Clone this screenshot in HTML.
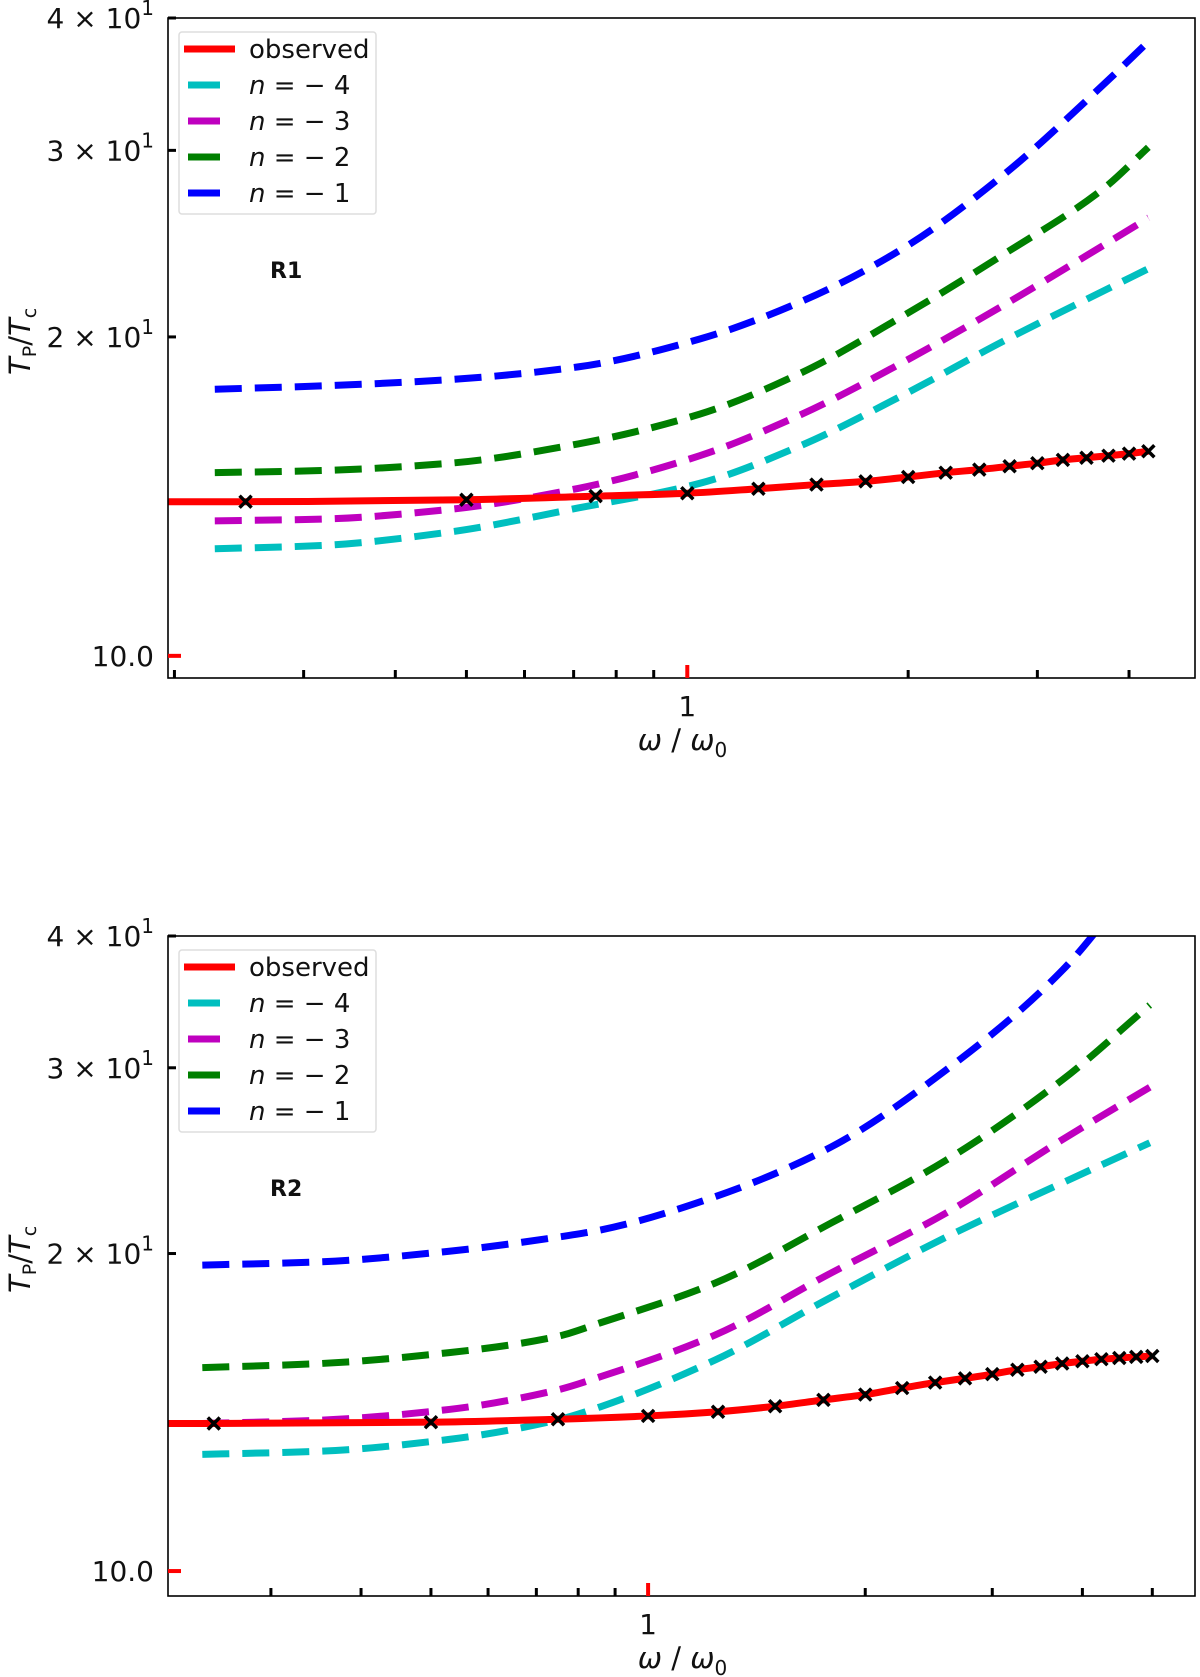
<!DOCTYPE html>
<html><head><meta charset="utf-8"><style>
body{margin:0;background:#fff;}
svg{display:block;font-family:"DejaVu Sans","Liberation Sans",sans-serif;}
</style></head><body>
<svg id="fig" width="1200" height="1677" viewBox="0 0 1200 1677"></svg>
<script>
// ---- data: panel R1 ----
const obsX1 = [0.25,0.5,0.75,1.0,1.25,1.5,1.75,2.0,2.25,2.5,2.75,3.0,3.25,3.5,3.75,4.0,4.25];
const obsY1 = [13.98,14.04,14.15,14.24,14.38,14.51,14.61,14.75,14.89,14.99,15.10,15.20,15.31,15.38,15.45,15.52,15.60];
const curveX1 = [0.227,0.317,0.475,0.710,1.04,1.43,1.96,2.69,3.69,4.25];
const nm1Y1 = [17.85,17.98,18.23,18.74,19.91,21.6,24.2,28.4,34.6,38.0];
const nm2Y1 = [14.89,14.96,15.20,15.85,16.91,18.5,20.9,23.9,27.6,30.2];
const nm3Y1 = [13.41,13.46,13.75,14.39,15.45,16.9,18.9,21.4,24.4,25.9];
const nm4Y1 = [12.62,12.71,13.09,13.79,14.55,15.8,17.6,19.8,22.1,23.2];
// ---- data: panel R2 ----
const obsX2 = [0.25,0.5,0.75,1.0,1.25,1.5,1.75,2.0,2.25,2.5,2.75,3.0,3.25,3.5,3.75,4.0,4.25,4.5,4.75,5.0];
const obsY2 = [13.80,13.84,13.93,14.03,14.16,14.33,14.53,14.70,14.91,15.09,15.23,15.37,15.52,15.62,15.73,15.81,15.88,15.92,15.96,15.99];
const curveX2 = [0.241,0.351,0.530,0.746,0.858,1.238,1.794,2.589,3.75,4.96];
const nm1Y2 = [19.50,19.64,20.10,20.72,21.05,22.64,25.24,29.86,37.1,47.0];
const nm2Y2 = [15.59,15.73,16.11,16.68,17.19,18.75,21.38,24.52,29.21,34.4];
const nm3Y2 = [13.80,13.90,14.23,14.84,15.28,16.74,19.17,21.85,25.64,28.75];
const nm4Y2 = [12.90,12.99,13.33,13.90,14.31,15.85,18.18,20.73,23.33,25.47];
const yTickVals = [10,20,30,40];
const yTickLabels = ["10.0","2 × 10|1","3 × 10|1","4 × 10|1"];
const xMinorVals = [0.2,0.3,0.4,0.5,0.6,0.7,0.8,0.9,2,3,4,5];
const legendLabels = ["observed","n = −4","n = −3","n = −2","n = −1"];

const NS="http://www.w3.org/2000/svg";
const svg=document.getElementById('fig');
function mk(tag,attrs,parent){const e=document.createElementNS(NS,tag);for(const k in attrs)e.setAttribute(k,attrs[k]);(parent||svg).appendChild(e);return e;}

function smoothPath(pts){
  const n=pts.length,xs=pts.map(p=>p[0]),ys=pts.map(p=>p[1]);
  const d=[],m=new Array(n);
  for(let i=0;i<n-1;i++)d.push((ys[i+1]-ys[i])/(xs[i+1]-xs[i]));
  m[0]=d[0];m[n-1]=d[n-2];
  for(let i=1;i<n-1;i++){
    if(d[i-1]*d[i]<=0)m[i]=0;
    else{const h0=xs[i]-xs[i-1],h1=xs[i+1]-xs[i];const w1=2*h1+h0,w2=h1+2*h0;m[i]=(w1+w2)/(w1/d[i-1]+w2/d[i]);}
  }
  let s="M"+xs[0].toFixed(2)+","+ys[0].toFixed(2);
  for(let i=0;i<n-1;i++){
    const h=xs[i+1]-xs[i];
    s+=" C"+(xs[i]+h/3).toFixed(2)+","+(ys[i]+m[i]*h/3).toFixed(2)+" "+(xs[i+1]-h/3).toFixed(2)+","+(ys[i+1]-m[i+1]*h/3).toFixed(2)+" "+xs[i+1].toFixed(2)+","+ys[i+1].toFixed(2);
  }
  return s;
}

function panel(cfg){
  const {L,R,T,B,xmin,xmax,ymin,ymax,id}=cfg;
  const g=mk('g',{});
  
  
  const sx=v=>L+(Math.log10(v)-Math.log10(xmin))/(Math.log10(xmax)-Math.log10(xmin))*(R-L);
  const sy=v=>B-(Math.log10(v)-Math.log10(ymin))/(Math.log10(ymax)-Math.log10(ymin))*(B-T);
  const cid='clip-'+id;
  const cp=mk('clipPath',{id:cid},g);mk('rect',{x:L,y:T,width:R-L,height:B-T},cp);
  const plot=mk('g',{'clip-path':'url(#'+cid+')'},g);
  const series=[[cfg.nm4,'#00bfbf','n-minus-4'],[cfg.nm3,'#bf00bf','n-minus-3'],[cfg.nm2,'#007f00','n-minus-2'],[cfg.nm1,'#0000ff','n-minus-1']];
  series.forEach(s=>{
    const pts=cfg.cx.map((x,i)=>[sx(x),sy(s[0][i])]);
    const p=mk('path',{d:smoothPath(pts),fill:'none',stroke:s[1],'stroke-width':7,'stroke-dasharray':'27,13'},plot);
    
    
  });
  const opts=[[L,sy(cfg.oy[0])]].concat(cfg.ox.map((x,i)=>[sx(x),sy(cfg.oy[i])]));
  const op=mk('path',{d:smoothPath(opts),fill:'none',stroke:'#ff0000','stroke-width':7},plot);
  
  
  cfg.ox.forEach((x,i)=>{
    const X=sx(x),Y=sy(cfg.oy[i]),s=6;
    const m=mk('path',{d:`M${X-s},${Y-s}L${X+s},${Y+s}M${X-s},${Y+s}L${X+s},${Y-s}`,stroke:'#000','stroke-width':3.5},plot);
    
    
  });
  const fr=mk('rect',{x:L,y:T,width:R-L,height:B-T,fill:'none',stroke:'#000','stroke-width':1.6},g);
  
  
  yTickVals.forEach((v,i)=>{
    const Y=sy(v);
    const red=v===10;
    mk('line',{x1:L,x2:L+(red?13:8),y1:Y,y2:Y,stroke:red?'#ff0000':'#000','stroke-width':red?4:3},g);
    const t=mk('text',{x:L-14,y:Y+10,'text-anchor':'end','font-size':28,fill:'#111'},g);
    const parts=yTickLabels[i].split('|');
    if(parts.length===1) t.textContent=parts[0];
    else t.innerHTML=parts[0]+'<tspan font-size="20" dy="-13">'+parts[1]+'</tspan>';
    
    
  });
  xMinorVals.forEach(v=>{
    const X=sx(v); if(X<L+4||X>R+1)return;
    mk('line',{x1:X,x2:X,y1:B,y2:B-8,stroke:'#000','stroke-width':3},g);
  });
  const X1=sx(1);
  mk('line',{x1:X1,x2:X1,y1:B,y2:B-13,stroke:'#ff0000','stroke-width':4},g);
  const xl=mk('text',{x:X1,y:B+38,'text-anchor':'middle','font-size':28,fill:'#111'},g);
  xl.textContent='1';
  
  
  const xt=mk('text',{x:(L+R)/2+1,y:B+72,'text-anchor':'middle','font-size':29,fill:'#111'},g);
  xt.innerHTML='<tspan font-style="italic">ω</tspan> / <tspan font-style="italic">ω</tspan><tspan font-size="20" dy="7">0</tspan>';
  
  
  const yc=T+(B-T)*0.49;
  const yt=mk('text',{x:0,y:0,transform:`translate(30,${yc}) rotate(-90)`,'text-anchor':'middle','font-size':29,fill:'#111'},g);
  yt.innerHTML='<tspan font-style="italic">T</tspan><tspan font-size="19" dy="6">P</tspan><tspan dy="-6">/</tspan><tspan font-style="italic">T</tspan><tspan font-size="19" dy="6">c</tspan>';
  
  
  const pl=mk('text',{x:L+102,y:T+260,'font-size':22,'font-weight':'bold',fill:'#111'},g);
  pl.textContent=id.toUpperCase();
  
  
  const lg=mk('g',{},g);
  
  
  mk('rect',{x:L+11,y:T+14,width:197,height:182,rx:3,fill:'#fff',stroke:'#ddd','stroke-width':1.5},lg);
  const cols=['#ff0000','#00bfbf','#bf00bf','#007f00','#0000ff'];
  legendLabels.forEach((lab,i)=>{
    const Y=T+31+i*36;
    if(i===0) mk('line',{x1:L+16,x2:L+67,y1:Y,y2:Y,stroke:cols[i],'stroke-width':7},lg);
    else mk('line',{x1:L+20,x2:L+52,y1:Y,y2:Y,stroke:cols[i],'stroke-width':7},lg);
    const t=mk('text',{x:L+81,y:Y+9,'font-size':26,fill:'#111'},lg);
    if(i===0) t.textContent=lab;
    else t.innerHTML='<tspan font-style="italic">n</tspan> = − '+lab.slice(-1);
    
    
  });
}
panel({id:'r1',L:168,R:1195,T:18,B:678,xmin:0.196,xmax:4.92,ymin:9.53,ymax:40,
  ox:obsX1,oy:obsY1,cx:curveX1,nm1:nm1Y1,nm2:nm2Y1,nm3:nm3Y1,nm4:nm4Y1});
panel({id:'r2',L:168,R:1195,T:936,B:1596,xmin:0.216,xmax:5.73,ymin:9.47,ymax:40,
  ox:obsX2,oy:obsY2,cx:curveX2,nm1:nm1Y2,nm2:nm2Y2,nm3:nm3Y2,nm4:nm4Y2});
</script>
</body></html>
